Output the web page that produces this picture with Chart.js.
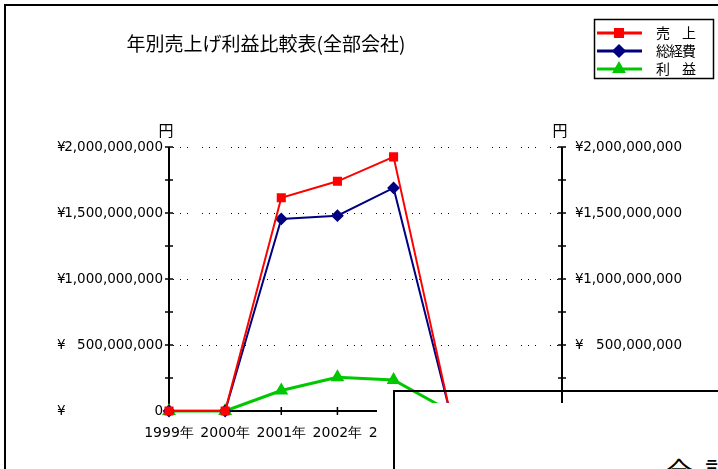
<!DOCTYPE html>
<html lang="ja">
<head>
<meta charset="utf-8">
<title>年別売上げ利益比較表</title>
<script src="https://cdn.jsdelivr.net/npm/chart.js@4.4.1/dist/chart.umd.min.js"></script>
<style>
  html, body { margin: 0; padding: 0; background: #fff; overflow: hidden; }
  #wrap { position: relative; width: 718px; height: 469px; }
  #frame { position: absolute; left: 4px; top: 4px; width: 900px; height: 900px; border: 2px solid #000; pointer-events: none; }
  #cover { position: absolute; left: 377px; top: 403px; width: 400px; height: 100px; background: #fff; }
  #win { position: absolute; left: 393px; top: 390px; width: 400px; height: 200px; border-left: 2px solid #000; border-top: 2px solid #000; }
  #winText { position: absolute; left: 665px; top: 451px; font: 28px "Noto Sans CJK JP"; letter-spacing: 12px; color: #000; white-space: nowrap; }
</style>
</head>
<body>
<div id="wrap">
  <canvas id="chart" width="718" height="469"></canvas>
  <div id="frame"></div>
  <div id="cover"></div>
  <div id="win"></div>
  <div id="winText">合計</div>
</div>
<script>
// ----------------------
// Data
// ----------------------
const years = ["1999年", "2000年", "2001年", "2002年", "2003年", "2004年", "2005年", "2006年"];
const sales    = [0, 0, 1615000000, 1740000000, 1925000000, 0, 0, 0];   // 売上
const expenses = [0, 0, 1455000000, 1480000000, 1690000000, 0, 0, 0];   // 総経費
const profit   = [0, 0, 155000000, 255000000, 235000000, 0, 0, 0];      // 利益

const yMin = 0;
const yMax = 2000000000;
const yMinorStep = 250000000;
const yMajorStep = 500000000;

const chartTitle = "年別売上げ利益比較表(全部会社)";
const unitLabel = "円";

const NUM_FONT = '"DejaVu Sans"';
const JP_FONT = '"Noto Sans CJK JP"';

// ----------------------
// Axes, grid, labels, title, legend
// ----------------------
const decorations = {
  id: "decorations",
  beforeDatasetsDraw(chart) {
    const ctx = chart.ctx;
    const area = chart.chartArea;
    const yL = chart.scales.y;
    const x = chart.scales.x;
    ctx.save();

    // dotted grid lines
    ctx.strokeStyle = "#000";
    ctx.lineWidth = 1;
    ctx.setLineDash([1, 6, 1, 6, 1, 14]);
    for (let v = yMajorStep; v <= yMax; v += yMajorStep) {
      const py = Math.round(yL.getPixelForValue(v)) + 0.5;
      ctx.beginPath();
      ctx.moveTo(area.left + 4, py);
      ctx.lineTo(area.right - 4, py);
      ctx.stroke();
    }
    ctx.setLineDash([]);

    // axis lines
    ctx.lineWidth = 2;
    ctx.beginPath();
    ctx.moveTo(area.left, area.top);
    ctx.lineTo(area.left, area.bottom);
    ctx.moveTo(area.right, area.top);
    ctx.lineTo(area.right, area.bottom);
    ctx.moveTo(area.left, area.bottom);
    ctx.lineTo(area.right, area.bottom);
    ctx.stroke();

    // tick marks crossing the axes
    ctx.lineWidth = 1.5;
    ctx.beginPath();
    for (let v = yMin; v <= yMax; v += yMinorStep) {
      const py = yL.getPixelForValue(v);
      ctx.moveTo(area.left - 4, py);
      ctx.lineTo(area.left + 4, py);
      ctx.moveTo(area.right - 4, py);
      ctx.lineTo(area.right + 4, py);
    }
    years.forEach((_, i) => {
      const px = x.getPixelForValue(i);
      ctx.moveTo(px, area.bottom - 4);
      ctx.lineTo(px, area.bottom + 4);
    });
    ctx.stroke();
    ctx.restore();
  },
  afterDraw(chart) {
    const ctx = chart.ctx;
    const area = chart.chartArea;
    const yL = chart.scales.y;
    ctx.save();
    ctx.fillStyle = "#000";

    // y tick labels (accounting style: yen sign left, number right)
    ctx.font = "13.5px " + NUM_FONT;
    ctx.textBaseline = "middle";
    for (let v = yMin; v <= yMax; v += yMajorStep) {
      const py = yL.getPixelForValue(v);
      const num = v.toLocaleString("en-US");
      ctx.textAlign = "left";
      ctx.fillText("¥", 57, py);
      ctx.fillText("¥", area.right + 13, py);
      ctx.textAlign = "right";
      ctx.fillText(num, area.left - 6, py);
      ctx.fillText(num, area.right + 120, py);
    }

    // unit labels
    ctx.font = "15px " + JP_FONT;
    ctx.textAlign = "center";
    ctx.fillText(unitLabel, area.left - 3, area.top - 17);
    ctx.fillText(unitLabel, area.right - 2, area.top - 17);

    // title
    ctx.font = "19px " + JP_FONT;
    ctx.fillText(chartTitle, 266, 44);

    // legend box
    ctx.lineWidth = 1.5;
    ctx.strokeStyle = "#000";
    ctx.strokeRect(594.5, 19.5, 119, 59);
    const rowY = [33, 51, 69];
    ctx.font = "14px " + JP_FONT;
    chart.data.datasets.forEach((ds, i) => {
      const ly = rowY[i];
      ctx.strokeStyle = ds.borderColor;
      ctx.lineWidth = 3;
      ctx.beginPath();
      ctx.moveTo(597, ly);
      ctx.lineTo(642, ly);
      ctx.stroke();
      Chart.helpers.drawPoint(ctx, {
        pointStyle: ds.pointStyle, radius: 5, rotation: 0, borderWidth: 1
      }, 619, ly);
      ctx.fillStyle = ds.borderColor;
      ctx.fill();
      // distribute the label over the width of three characters
      ctx.fillStyle = "#000";
      ctx.textAlign = "left";
      const chars = Array.from(ds.label);
      const span = 40;
      const cw = 14;
      chars.forEach((c, k) => {
        const cx = chars.length > 1 ? 656 + k * (span - cw) / (chars.length - 1) : 656;
        ctx.fillText(c, cx, ly);
      });
    });
    ctx.restore();
  }
};

// ----------------------
// Chart
// ----------------------
const ctx = document.getElementById("chart").getContext("2d");
new Chart(ctx, {
  type: "line",
  data: {
    labels: years,
    datasets: [
      {
        label: "売上",
        data: sales,
        borderColor: "#ff0000",
        backgroundColor: "#ff0000",
        borderWidth: 2,
        pointStyle: "rect",
        pointRadius: 5,
        tension: 0,
        clip: false
      },
      {
        label: "総経費",
        data: expenses,
        borderColor: "#000080",
        backgroundColor: "#000080",
        borderWidth: 2,
        pointStyle: "rectRot",
        pointRadius: 5,
        tension: 0,
        clip: false
      },
      {
        label: "利益",
        data: profit,
        borderColor: "#00c800",
        backgroundColor: "#00c800",
        borderWidth: 3,
        pointStyle: "triangle",
        pointRadius: 5,
        tension: 0,
        clip: false
      }
    ]
  },
  options: {
    responsive: false,
    animation: false,
    events: [],
    layout: { padding: { top: 147, left: 0, right: 0, bottom: 0 } },
    plugins: {
      legend: { display: false },
      title: { display: false },
      tooltip: { enabled: false }
    },
    scales: {
      x: {
        type: "category",
        offset: false,
        grid: { display: false, drawTicks: false },
        border: { display: false },
        ticks: {
          color: "#000",
          font: { family: "DejaVu Sans", size: 14 },
          padding: 14,
          maxRotation: 0,
          autoSkip: false
        },
        afterFit(s) { s.height = 58; }
      },
      y: {
        position: "left",
        min: yMin,
        max: yMax,
        ticks: { display: false, stepSize: yMinorStep },
        grid: { display: false },
        border: { display: false },
        afterFit(s) { s.width = 169; }
      },
      y2: {
        position: "right",
        min: yMin,
        max: yMax,
        ticks: { display: false, stepSize: yMinorStep },
        grid: { display: false },
        border: { display: false },
        afterFit(s) { s.width = 156; }
      }
    }
  },
  plugins: [decorations]
});
</script>
</body>
</html>
